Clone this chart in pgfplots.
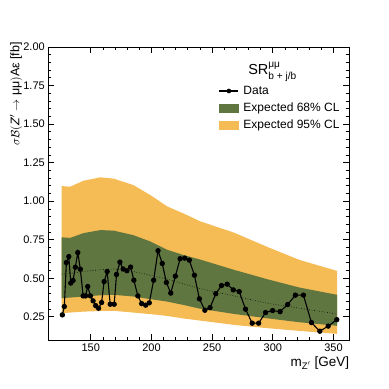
\documentclass[border=0pt]{standalone}
\usepackage{fontspec}
\setmainfont{Liberation Sans}
\newfontfamily\seriffont{Liberation Serif}
\usepackage{amsmath}
\usepackage{pgfplots}
\usepackage{pgfplotstable}
\pgfplotsset{compat=1.18}
\usepgfplotslibrary{fillbetween}

\definecolor{cmsgreen}{HTML}{607641}
\definecolor{cmsyellow}{HTML}{F5BB54}

% expected limit bands
\pgfplotstableread{
x     lo95   lo68   exp    hi68   hi95
126   0.274  0.371  0.527  0.766  1.098
133   0.278  0.375  0.532  0.762  1.094
144   0.284  0.382  0.544  0.793  1.133
158   0.288  0.390  0.556  0.813  1.155
169   0.289  0.393  0.561  0.809  1.146
185   0.278  0.382  0.544  0.780  1.105
199   0.268  0.365  0.520  0.739  1.040
213   0.256  0.349  0.495  0.685  0.966
226   0.240  0.328  0.465  0.652  0.922
240   0.226  0.303  0.433  0.622  0.870
268   0.198  0.269  0.386  0.555  0.796
295   0.177  0.241  0.339  0.495  0.705
322   0.159  0.215  0.306  0.440  0.619
353   0.140  0.192  0.269  0.393  0.548
}\bands

\begin{document}
\begin{tikzpicture}
\begin{axis}[
    scale only axis,
    width=301pt, height=293pt,
    xmin=115, xmax=363,
    ymin=0.1, ymax=2.0,
    xtick={150,200,...,350},
    ytick={0.25,0.5,...,2.0},
    minor x tick num=4,
    minor y tick num=4,
    tick align=inside,
    major tick length=6pt,
    minor tick length=3pt,
    axis line style={line width=1pt},
    every tick/.style={black, line width=0.8pt},
    tick label style={font=\fontsize{11}{13}\selectfont},
    /pgf/number format/assume math mode=true,
    yticklabel style={/pgf/number format/.cd, fixed, fixed zerofill, precision=2},
    xlabel={m$_{\text{Z}'}$ [GeV]},
    xlabel style={font=\fontsize{13.5}{15}\selectfont, inner sep=0pt,
        at={(axis description cs:1,-0.092)}, anchor=base east},
    ylabel={$\sigma\mathcal{B}($\textit{Z}$'\rightarrow$ μμ$)$Aε [fb]},
    ylabel style={font=\fontsize{12.5}{14}\selectfont, inner sep=0pt,
        at={(axis description cs:-0.0857,1.017)}, anchor=south east},
    legend style={at={(axis description cs:0.566,0.874)}, anchor=north west,
        draw=none, fill=none, font=\fontsize{12}{14}\selectfont,
        row sep=3pt, column sep=2.5pt, inner sep=0pt, cells={anchor=west}},
]

\addplot[name path=hi95, draw=none, forget plot] table[x=x, y=hi95] {\bands};
\addplot[name path=lo95, draw=none, forget plot] table[x=x, y=lo95] {\bands};
\addplot[cmsyellow, forget plot] fill between[of=hi95 and lo95];
\addplot[name path=hi68, draw=none, forget plot] table[x=x, y=hi68] {\bands};
\addplot[name path=lo68, draw=none, forget plot] table[x=x, y=lo68] {\bands};
\addplot[cmsgreen, forget plot] fill between[of=hi68 and lo68];
\addplot[black, dotted, line width=0.6pt, forget plot] table[x=x, y=exp] {\bands};

% observed
\addplot[black, line width=1.1pt, mark=*, mark size=2.1pt, forget plot] coordinates {
(126.6,0.263)(128.2,0.317)(129.9,0.602)(131.9,0.641)(133.5,0.469)(135.4,0.486)
(137.3,0.572)(139.3,0.667)(141.4,0.559)(143.7,0.386)(145.7,0.386)(147.5,0.447)
(149.7,0.386)(151.9,0.354)(154.0,0.323)(156.4,0.306)(158.9,0.343)(161.0,0.479)
(163.5,0.544)(166.0,0.332)(169.3,0.332)(171.2,0.525)(174.0,0.605)(176.7,0.560)
(179.8,0.549)(182.8,0.573)(185.5,0.488)(188.8,0.386)(191.9,0.336)(195.2,0.326)
(198.2,0.341)(201.8,0.488)(205.4,0.679)(208.9,0.596)(212.3,0.473)(215.9,0.404)
(219.7,0.514)(223.6,0.627)(227.4,0.631)(231.2,0.618)(235.4,0.520)(239.5,0.367)
(244.0,0.293)(248.3,0.310)(253.0,0.400)(257.7,0.453)(262.4,0.462)(267.4,0.425)
(272.3,0.414)(277.5,0.300)(283.0,0.209)(288.3,0.209)(294.0,0.278)(299.8,0.291)
(306.0,0.284)(312.2,0.330)(318.6,0.391)(325.2,0.391)(331.8,0.213)(338.7,0.157)
(345.6,0.190)(352.7,0.232)
};

\addlegendimage{legend image code/.code={
    \draw[black, line width=1.1pt] (0pt,0pt) -- (19pt,0pt);
    \fill[black] (9.5pt,0pt) circle (2.1pt);}}
\addlegendentry{Data}
\addlegendimage{legend image code/.code={
    \fill[cmsgreen] (0pt,-4pt) rectangle (19pt,4pt);}}
\addlegendentry{Expected 68\% CL}
\addlegendimage{legend image code/.code={
    \fill[cmsyellow] (0pt,-4pt) rectangle (19pt,4pt);}}
\addlegendentry{Expected 95\% CL}

\node[anchor=center] at (axis description cs:0.745,0.915)
    {\fontsize{14.5}{16}\selectfont SR$^{\text{μμ}}_{\text{b + j/b}}$};
\node[anchor=base west, inner sep=0pt] at (axis description cs:0.002,1.0147)
    {\fontsize{17.5}{20}\selectfont\bfseries CMS};
\node[anchor=base east, inner sep=0pt] at (axis description cs:1,1.0147)
    {\fontsize{13}{15}\selectfont 138 {\seriffont fb}$^{-1}$ (13 TeV)};
\end{axis}
\path (-48.3pt,-49pt) rectangle (340.7pt,340pt);
\end{tikzpicture}
\end{document}
